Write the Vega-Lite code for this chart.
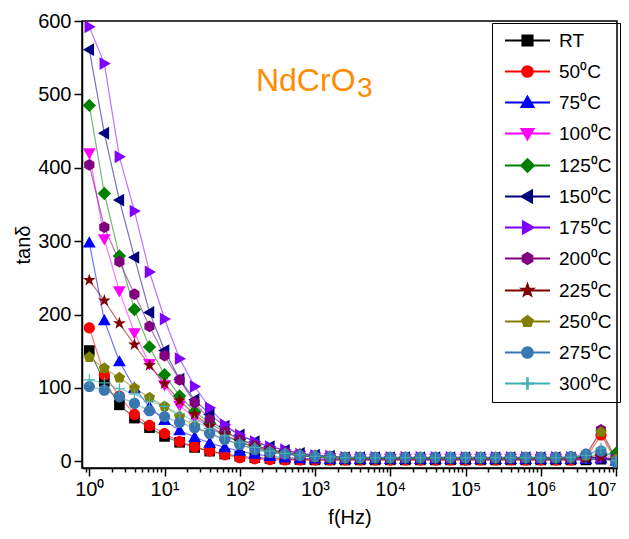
{
  "$schema": "https://vega.github.io/schema/vega-lite/v6.json",
  "width": 535,
  "height": 447,
  "autosize": {"type": "none"},
  "padding": {"left": 82, "top": 21, "right": 12, "bottom": 71},
  "config": {
    "font": "Liberation Sans",
    "view": {"stroke": "black", "strokeWidth": 1.5},
    "axis": {"labelFont": "Liberation Sans", "labelFontSize": 20, "labelColor": "black", "titleFont": "Liberation Sans", "titleFontSize": 20, "titleFontWeight": "normal", "titleColor": "black", "domainColor": "black", "domainWidth": 1.5, "tickColor": "black", "tickWidth": 1.5, "grid": false}
  },
  "data": {"values": [
    {"f": 1, "RT": 151, "50⁰C": 182, "75⁰C": 298, "100⁰C": 420, "125⁰C": 485, "150⁰C": 561, "175⁰C": 592, "200⁰C": 404, "225⁰C": 247, "250⁰C": 142, "275⁰C": 102, "300⁰C": 111},
    {"f": 1.585, "RT": 109, "50⁰C": 118, "75⁰C": 192, "100⁰C": 303, "125⁰C": 365, "150⁰C": 447, "175⁰C": 542, "200⁰C": 319, "225⁰C": 219, "250⁰C": 127, "275⁰C": 97, "300⁰C": 107},
    {"f": 2.512, "RT": 77, "50⁰C": 89, "75⁰C": 136, "100⁰C": 232, "125⁰C": 280, "150⁰C": 356, "175⁰C": 415, "200⁰C": 272, "225⁰C": 188, "250⁰C": 114, "275⁰C": 88, "300⁰C": 99},
    {"f": 3.981, "RT": 59, "50⁰C": 64, "75⁰C": 100, "100⁰C": 175, "125⁰C": 207, "150⁰C": 278, "175⁰C": 341, "200⁰C": 228, "225⁰C": 159, "250⁰C": 100, "275⁰C": 79, "300⁰C": 92},
    {"f": 6.31, "RT": 46, "50⁰C": 49, "75⁰C": 74, "100⁰C": 133, "125⁰C": 156, "150⁰C": 203, "175⁰C": 258, "200⁰C": 184, "225⁰C": 131, "250⁰C": 87, "275⁰C": 69, "300⁰C": 82},
    {"f": 10, "RT": 34, "50⁰C": 38, "75⁰C": 56, "100⁰C": 104, "125⁰C": 118, "150⁰C": 151, "175⁰C": 194, "200⁰C": 144, "225⁰C": 106, "250⁰C": 75, "275⁰C": 61, "300⁰C": 75},
    {"f": 15.85, "RT": 26, "50⁰C": 27, "75⁰C": 42, "100⁰C": 76, "125⁰C": 89, "150⁰C": 112, "175⁰C": 140, "200⁰C": 111, "225⁰C": 83, "250⁰C": 61, "275⁰C": 53, "300⁰C": 65},
    {"f": 25.12, "RT": 19, "50⁰C": 20, "75⁰C": 33, "100⁰C": 60, "125⁰C": 68, "150⁰C": 84, "175⁰C": 102, "200⁰C": 80, "225⁰C": 64, "250⁰C": 48, "275⁰C": 46, "300⁰C": 55},
    {"f": 39.81, "RT": 14, "50⁰C": 14, "75⁰C": 25, "100⁰C": 46, "125⁰C": 52, "150⁰C": 64, "175⁰C": 73, "200⁰C": 57, "225⁰C": 48, "250⁰C": 38, "275⁰C": 38, "300⁰C": 45},
    {"f": 63.1, "RT": 10, "50⁰C": 9, "75⁰C": 19, "100⁰C": 35, "125⁰C": 40, "150⁰C": 48, "175⁰C": 50, "200⁰C": 41, "225⁰C": 36, "250⁰C": 30, "275⁰C": 30, "300⁰C": 35},
    {"f": 100, "RT": 7, "50⁰C": 5, "75⁰C": 14, "100⁰C": 26, "125⁰C": 30, "150⁰C": 36, "175⁰C": 36, "200⁰C": 30, "225⁰C": 27, "250⁰C": 23, "275⁰C": 23, "300⁰C": 26},
    {"f": 158.5, "RT": 5, "50⁰C": 3.5, "75⁰C": 10, "100⁰C": 19, "125⁰C": 22, "150⁰C": 27, "175⁰C": 27, "200⁰C": 22, "225⁰C": 20, "250⁰C": 17, "275⁰C": 16, "300⁰C": 19},
    {"f": 251.2, "RT": 4, "50⁰C": 2.5, "75⁰C": 7, "100⁰C": 14, "125⁰C": 16, "150⁰C": 20, "175⁰C": 20, "200⁰C": 16, "225⁰C": 15, "250⁰C": 13, "275⁰C": 12, "300⁰C": 14},
    {"f": 398.1, "RT": 3, "50⁰C": 2, "75⁰C": 5, "100⁰C": 10, "125⁰C": 12, "150⁰C": 15, "175⁰C": 16, "200⁰C": 12, "225⁰C": 11, "250⁰C": 10, "275⁰C": 10, "300⁰C": 11},
    {"f": 631, "RT": 2.5, "50⁰C": 2, "75⁰C": 4, "100⁰C": 8, "125⁰C": 9, "150⁰C": 11, "175⁰C": 10, "200⁰C": 9, "225⁰C": 8, "250⁰C": 8, "275⁰C": 8, "300⁰C": 9},
    {"f": 1000, "RT": 2, "50⁰C": 2, "75⁰C": 3.5, "100⁰C": 6, "125⁰C": 7, "150⁰C": 8.5, "175⁰C": 8, "200⁰C": 7, "225⁰C": 6, "250⁰C": 6, "275⁰C": 7, "300⁰C": 7},
    {"f": 1585, "RT": 2, "50⁰C": 2, "75⁰C": 3, "100⁰C": 5, "125⁰C": 6, "150⁰C": 7, "175⁰C": 7, "200⁰C": 6, "225⁰C": 5, "250⁰C": 5, "275⁰C": 6, "300⁰C": 6},
    {"f": 2512, "RT": 2, "50⁰C": 2, "75⁰C": 3, "100⁰C": 4, "125⁰C": 4.5, "150⁰C": 5, "175⁰C": 5.5, "200⁰C": 5, "225⁰C": 4.5, "250⁰C": 4.5, "275⁰C": 5.5, "300⁰C": 5},
    {"f": 3981, "RT": 2, "50⁰C": 2, "75⁰C": 3, "100⁰C": 4, "125⁰C": 4.5, "150⁰C": 5, "175⁰C": 5.5, "200⁰C": 5, "225⁰C": 4.5, "250⁰C": 4.5, "275⁰C": 5.5, "300⁰C": 5},
    {"f": 6310, "RT": 2, "50⁰C": 2, "75⁰C": 3, "100⁰C": 4, "125⁰C": 4.5, "150⁰C": 5, "175⁰C": 5.5, "200⁰C": 5, "225⁰C": 4.5, "250⁰C": 4.5, "275⁰C": 5.5, "300⁰C": 5},
    {"f": 10000, "RT": 2, "50⁰C": 2, "75⁰C": 3, "100⁰C": 4, "125⁰C": 4.5, "150⁰C": 5, "175⁰C": 5.5, "200⁰C": 5, "225⁰C": 4.5, "250⁰C": 4.5, "275⁰C": 5.5, "300⁰C": 5},
    {"f": 15849, "RT": 2, "50⁰C": 2, "75⁰C": 3, "100⁰C": 4, "125⁰C": 4.5, "150⁰C": 5, "175⁰C": 5.5, "200⁰C": 5, "225⁰C": 4.5, "250⁰C": 4.5, "275⁰C": 5.5, "300⁰C": 5},
    {"f": 25119, "RT": 2, "50⁰C": 2, "75⁰C": 3, "100⁰C": 4, "125⁰C": 4.5, "150⁰C": 5, "175⁰C": 5.5, "200⁰C": 5, "225⁰C": 4.5, "250⁰C": 4.5, "275⁰C": 5.5, "300⁰C": 5},
    {"f": 39811, "RT": 2, "50⁰C": 2, "75⁰C": 3, "100⁰C": 4, "125⁰C": 4.5, "150⁰C": 5, "175⁰C": 5.5, "200⁰C": 5, "225⁰C": 4.5, "250⁰C": 4.5, "275⁰C": 5.5, "300⁰C": 5},
    {"f": 63096, "RT": 2, "50⁰C": 2, "75⁰C": 3, "100⁰C": 4, "125⁰C": 4.5, "150⁰C": 5, "175⁰C": 5.5, "200⁰C": 5, "225⁰C": 4.5, "250⁰C": 4.5, "275⁰C": 5.5, "300⁰C": 5},
    {"f": 100000, "RT": 2, "50⁰C": 2, "75⁰C": 3, "100⁰C": 4, "125⁰C": 4.5, "150⁰C": 5, "175⁰C": 5.5, "200⁰C": 5, "225⁰C": 4.5, "250⁰C": 4.5, "275⁰C": 5.5, "300⁰C": 5},
    {"f": 158489, "RT": 2, "50⁰C": 2, "75⁰C": 3, "100⁰C": 4, "125⁰C": 4.5, "150⁰C": 5, "175⁰C": 5.5, "200⁰C": 5, "225⁰C": 4.5, "250⁰C": 4.5, "275⁰C": 5.5, "300⁰C": 5},
    {"f": 251189, "RT": 2, "50⁰C": 2, "75⁰C": 3, "100⁰C": 4, "125⁰C": 4.5, "150⁰C": 5, "175⁰C": 5.5, "200⁰C": 5, "225⁰C": 4.5, "250⁰C": 4.5, "275⁰C": 5.5, "300⁰C": 5},
    {"f": 398107, "RT": 2, "50⁰C": 2, "75⁰C": 3, "100⁰C": 4, "125⁰C": 4.5, "150⁰C": 5, "175⁰C": 5.5, "200⁰C": 5, "225⁰C": 4.5, "250⁰C": 4.5, "275⁰C": 5.5, "300⁰C": 5},
    {"f": 630957, "RT": 2, "50⁰C": 2, "75⁰C": 3, "100⁰C": 4, "125⁰C": 4.5, "150⁰C": 5, "175⁰C": 5.5, "200⁰C": 5, "225⁰C": 4.5, "250⁰C": 4.5, "275⁰C": 5.5, "300⁰C": 5},
    {"f": 1000000, "RT": 2, "50⁰C": 2, "75⁰C": 3, "100⁰C": 4, "125⁰C": 4.5, "150⁰C": 5, "175⁰C": 5.5, "200⁰C": 5, "225⁰C": 4.5, "250⁰C": 4.5, "275⁰C": 5.5, "300⁰C": 5},
    {"f": 1584893, "RT": 2, "50⁰C": 2, "75⁰C": 3, "100⁰C": 4, "125⁰C": 4.5, "150⁰C": 5, "175⁰C": 5.5, "200⁰C": 5, "225⁰C": 4.5, "250⁰C": 4.5, "275⁰C": 5.5, "300⁰C": 5},
    {"f": 2511886, "RT": 2, "50⁰C": 2, "75⁰C": 3, "100⁰C": 4, "125⁰C": 5, "150⁰C": 5, "175⁰C": 5.5, "200⁰C": 5.5, "225⁰C": 4.5, "250⁰C": 5, "275⁰C": 6.5, "300⁰C": 5.5},
    {"f": 3981072, "RT": 2, "50⁰C": 4, "75⁰C": 3, "100⁰C": 5, "125⁰C": 6, "150⁰C": 5, "175⁰C": 6, "200⁰C": 8, "225⁰C": 5, "250⁰C": 8, "275⁰C": 10, "300⁰C": 8},
    {"f": 6309573, "RT": 3, "50⁰C": 36, "75⁰C": 4, "100⁰C": 6, "125⁰C": 9, "150⁰C": 5, "175⁰C": 5, "200⁰C": 43, "225⁰C": 6, "250⁰C": 40, "275⁰C": 14, "300⁰C": 18},
    {"f": 10000000, "RT": 1, "50⁰C": 1, "75⁰C": 1, "100⁰C": 2, "125⁰C": 11, "150⁰C": 2, "175⁰C": 2, "200⁰C": 3, "225⁰C": 2, "250⁰C": 3, "275⁰C": -1, "300⁰C": 1}
  ]},
  "layer": [
    {
      "transform": [{"fold": ["RT", "50⁰C", "75⁰C", "100⁰C", "125⁰C", "150⁰C", "175⁰C", "200⁰C", "225⁰C", "250⁰C", "275⁰C", "300⁰C"], "as": ["s", "v"]}],
      "mark": {"type": "line", "strokeWidth": 1.2, "opacity": 0.55, "clip": true},
      "encoding": {
        "x": {"field": "f", "type": "quantitative", "scale": {"type": "log", "domain": [0.8, 10300000], "nice": false},
          "axis": {"title": "f(Hz)", "titlePadding": 8,
            "values": [0.9, 1, 2, 3, 4, 5, 6, 7, 8, 9, 10, 20, 30, 40, 50, 60, 70, 80, 90, 100, 200, 300, 400, 500, 600, 700, 800, 900, 1000, 2000, 3000, 4000, 5000, 6000, 7000, 8000, 9000, 10000, 20000, 30000, 40000, 50000, 60000, 70000, 80000, 90000, 100000, 200000, 300000, 400000, 500000, 600000, 700000, 800000, 900000, 1000000, 2000000, 3000000, 4000000, 5000000, 6000000, 7000000, 8000000, 9000000, 10000000],
            "labelExpr": "abs(log(datum.value)/LN10 - round(log(datum.value)/LN10)) < 0.001 ? '10' + ['⁰','¹','²','³','⁴','⁵','⁶','⁷'][round(log(datum.value)/LN10)] : ''",
            "labelAlign": {"condition": {"test": "datum.value > 9500000", "value": "right"}, "value": "center"},
            "tickSize": {"condition": {"test": "abs(log(datum.value)/LN10 - round(log(datum.value)/LN10)) < 0.001", "value": 8}, "value": 4},
            "labelPadding": 3, "labelFlush": false, "labelOverlap": false, "labelBound": false}},
        "y": {"field": "v", "type": "quantitative", "scale": {"domain": [-9, 600], "nice": false, "zero": false},
          "axis": {"title": "tanδ", "titlePadding": 4, "values": [0, 50, 100, 150, 200, 250, 300, 350, 400, 450, 500, 550, 600],
            "labelExpr": "datum.value % 100 == 0 ? datum.label : ''",
            "tickSize": {"condition": {"test": "datum.value % 100 == 0", "value": 8}, "value": 4},
            "labelPadding": 3, "labelOverlap": false, "labelFlush": false}},
        "color": {"field": "s", "type": "nominal", "scale": {"domain": ["RT", "50⁰C", "75⁰C", "100⁰C", "125⁰C", "150⁰C", "175⁰C", "200⁰C", "225⁰C", "250⁰C", "275⁰C", "300⁰C"], "range": ["#000000", "#ff0000", "#0000ff", "#ff00ff", "#008000", "#000080", "#8000ff", "#800080", "#800000", "#808000", "#3a77b0", "#40b0b0"]}},
        "order": {"field": "f", "type": "quantitative"}
      }
    },
    {
      "transform": [{"fold": ["RT", "50⁰C", "75⁰C", "100⁰C", "125⁰C", "150⁰C", "175⁰C", "200⁰C", "225⁰C", "250⁰C", "275⁰C", "300⁰C"], "as": ["s", "v"]}],
      "mark": {"type": "point", "filled": true, "opacity": 1, "size": 125, "strokeWidth": 0, "clip": true},
      "encoding": {
        "x": {"field": "f", "type": "quantitative"},
        "y": {"field": "v", "type": "quantitative"},
        "color": {"field": "s", "type": "nominal",
          "legend": {"title": null, "orient": "none", "legendX": 410, "legendY": 2, "strokeColor": "black", "padding": 8, "labelFontSize": 19, "labelFont": "Liberation Sans", "labelColor": "black", "symbolSize": 125, "rowPadding": 11, "symbolOpacity": 1, "labelOffset": 22, "symbolOffset": 18,
            "encode": {"symbols": {"update": {
              "shape": {"signal": "scale('shape', datum.value) + ' M-3.9,-0.06L3.9,-0.06L3.9,0.06L-3.9,0.06Z'"}
            }}}}},
        "shape": {"field": "s", "type": "nominal", "legend": null,
          "sort": ["RT", "50⁰C", "75⁰C", "100⁰C", "125⁰C", "150⁰C", "175⁰C", "200⁰C", "225⁰C", "250⁰C", "275⁰C", "300⁰C"],
          "scale": {"range": [
          "M-0.95,-0.95L0.95,-0.95L0.95,0.95L-0.95,0.95Z",
          "M-1,0A1,1,0,1,1,1,0A1,1,0,1,1,-1,0Z",
          "M0,-1.15L1.15,0.85L-1.15,0.85Z",
          "M0,1.15L1.15,-0.85L-1.15,-0.85Z",
          "M0,-1.2L1.2,0L0,1.2L-1.2,0Z",
          "M-1.15,0L0.85,-1.15L0.85,1.15Z",
          "M1.15,0L-0.85,-1.15L-0.85,1.15Z",
          "M0,-1.05L0.91,-0.52L0.91,0.52L0,1.05L-0.91,0.52L-0.91,-0.52Z",
          "M0,-1.2L0.28,-0.39L1.14,-0.37L0.46,0.15L0.71,0.97L0,0.48L-0.71,0.97L-0.46,0.15L-1.14,-0.37L-0.28,-0.39Z",
          "M0,-1.05L1,-0.32L0.62,0.85L-0.62,0.85L-1,-0.32Z",
          "M-1,0A1,1,0,1,1,1,0A1,1,0,1,1,-1,0Z",
          "M-1,-0.1L1,-0.1L1,0.1L-1,0.1Z M-0.1,-1L0.1,-1L0.1,1L-0.1,1Z"
        ]}}
      }
    },
    {
      "data": {"values": [{}]},
      "mark": {"type": "text", "text": "NdCrO", "font": "Liberation Sans", "fontSize": 32, "color": "#ff8c00", "align": "left", "baseline": "alphabetic"},
      "encoding": {"x": {"datum": 164}, "y": {"datum": 505}}
    },
    {
      "data": {"values": [{}]},
      "mark": {"type": "text", "text": "3", "font": "Liberation Sans", "fontSize": 28, "color": "#ff8c00", "align": "left", "baseline": "alphabetic"},
      "encoding": {"x": {"datum": 3614}, "y": {"datum": 496}}
    }
  ]
}
